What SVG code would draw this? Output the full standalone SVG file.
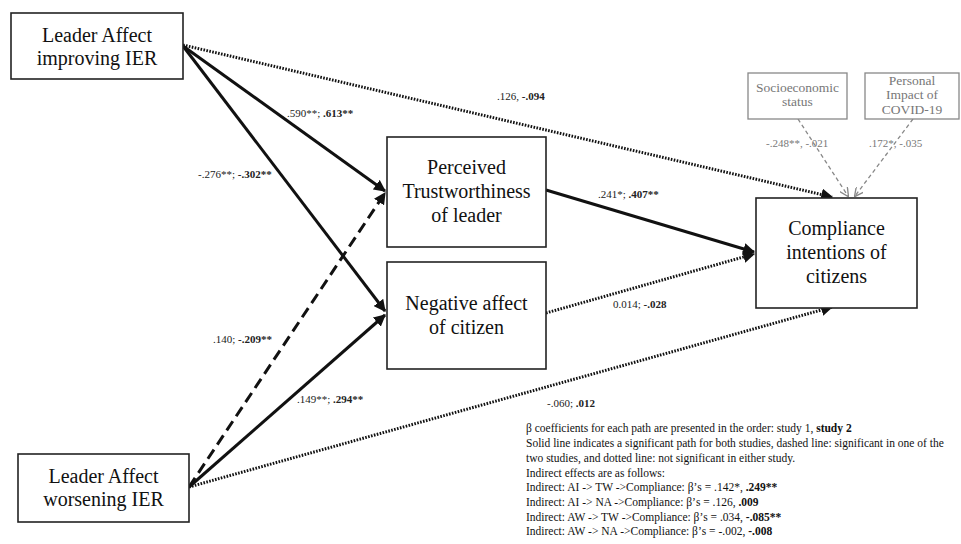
<svg xmlns="http://www.w3.org/2000/svg" width="961" height="544" viewBox="0 0 961 544">
<style>
.box{fill:#fff;stroke:#222;stroke-width:1.6}
.gbox{fill:#fff;stroke:#888;stroke-width:1.3}
.nt{font-family:"Liberation Serif","Times New Roman",serif;font-size:20px;fill:#111;text-anchor:middle}
.gt{font-family:"Liberation Serif","Times New Roman",serif;font-size:13.5px;fill:#777;text-anchor:middle}
.lb{font-family:"Liberation Serif","Times New Roman",serif;font-size:11px;fill:#222}
.glb{font-family:"Liberation Serif","Times New Roman",serif;font-size:11px;fill:#777}
.lg{font-family:"Liberation Serif","Times New Roman",serif;font-size:11.5px;fill:#111}
.b{font-weight:bold}
.solid{fill:none;stroke:#111;stroke-width:3}
.dash{fill:none;stroke:#111;stroke-width:3;stroke-dasharray:11 6}
.dot{fill:none;stroke:#111;stroke-width:3;stroke-dasharray:1.6 1.4}
.gdash{fill:none;stroke:#888;stroke-width:1.3;stroke-dasharray:4 3}
</style>
<defs>
<marker id="ah" viewBox="0 0 10 10" refX="9" refY="5" markerWidth="4" markerHeight="4" orient="auto" markerUnits="strokeWidth">
<path d="M0,0 L10,5 L0,10 z" fill="#111"/>
</marker>
<marker id="gah" viewBox="0 0 10 10" refX="9" refY="5" markerWidth="7" markerHeight="7" orient="auto" markerUnits="strokeWidth">
<path d="M0,0 L10,5 L0,10" fill="none" stroke="#888" stroke-width="1.5"/>
</marker>
</defs>
<rect width="961" height="544" fill="#fff"/>
<g id="connectors">
<line class="solid" x1="183" y1="46" x2="385" y2="191" marker-end="url(#ah)"/>
<line class="solid" x1="183" y1="46" x2="385" y2="311" marker-end="url(#ah)"/>
<line class="dot" x1="183" y1="45" x2="832" y2="197" marker-end="url(#ah)"/>
<line class="dash" x1="189" y1="487" x2="385" y2="193" marker-end="url(#ah)"/>
<line class="solid" x1="189" y1="487" x2="385" y2="315" marker-end="url(#ah)"/>
<line class="dot" x1="189" y1="487" x2="832" y2="307" marker-end="url(#ah)"/>
<line class="solid" x1="546" y1="190" x2="754" y2="252" marker-end="url(#ah)"/>
<line class="dot" x1="546" y1="313" x2="754" y2="254" marker-end="url(#ah)"/>
<line class="gdash" x1="798" y1="119" x2="848" y2="196" marker-end="url(#gah)"/>
<line class="gdash" x1="913" y1="119" x2="855" y2="196" marker-end="url(#gah)"/>
<text class="lb" x="287" y="117">.590**; <tspan class="b">.613**</tspan></text>
<text class="lb" x="198" y="178">-.276**; <tspan class="b">-.302**</tspan></text>
<text class="lb" x="497" y="100">.126, <tspan class="b">-.094</tspan></text>
<text class="glb" x="766" y="147">-.248**, -.021</text>
<text class="glb" x="869" y="147">.172*, -.035</text>
<text class="lb" x="598" y="198">.241*; <tspan class="b">.407**</tspan></text>
<text class="lb" x="613" y="308">0.014; <tspan class="b">-.028</tspan></text>
<text class="lb" x="213" y="343">.140; <tspan class="b">-.209**</tspan></text>
<text class="lb" x="297" y="403">.149**; <tspan class="b">.294**</tspan></text>
<text class="lb" x="547" y="407">-.060; <tspan class="b">.012</tspan></text>
</g>
<g id="n_ai">
<rect class="box" x="11" y="13" width="172" height="66"/>
<text class="nt" x="97" y="42">Leader Affect</text>
<text class="nt" x="97" y="65">improving IER</text>
</g>
<g id="n_aw">
<rect class="box" x="18" y="454" width="171" height="68"/>
<text class="nt" x="103.5" y="483">Leader Affect</text>
<text class="nt" x="103.5" y="506">worsening IER</text>
</g>
<g id="n_tw">
<rect class="box" x="387" y="137" width="159" height="110"/>
<text class="nt" x="466.5" y="174">Perceived</text>
<text class="nt" x="466.5" y="198">Trustworthiness</text>
<text class="nt" x="466.5" y="222">of leader</text>
</g>
<g id="n_na">
<rect class="box" x="387" y="262" width="159" height="107"/>
<text class="nt" x="466.5" y="310">Negative affect</text>
<text class="nt" x="466.5" y="334">of citizen</text>
</g>
<g id="n_comp">
<rect class="box" x="756" y="198" width="161" height="110"/>
<text class="nt" x="836.5" y="235">Compliance</text>
<text class="nt" x="836.5" y="259">intentions of</text>
<text class="nt" x="836.5" y="283">citizens</text>
</g>
<g id="n_ses">
<rect class="gbox" x="748" y="73" width="99" height="46"/>
<text class="gt" x="797.5" y="92">Socioeconomic</text>
<text class="gt" x="797.5" y="106">status</text>
</g>
<g id="n_pi">
<rect class="gbox" x="865" y="73" width="94" height="46"/>
<text class="gt" x="912" y="85">Personal</text>
<text class="gt" x="912" y="99">Impact of</text>
<text class="gt" x="912" y="114">COVID-19</text>
</g>
<g id="legend">
<text class="lg" x="526" y="432">β coefficients for each path are presented in the order: study 1, <tspan class="b">study 2</tspan></text>
<text class="lg" x="526" y="447">Solid line indicates a significant path for both studies, dashed line: significant in one of the</text>
<text class="lg" x="526" y="462">two studies, and dotted line: not significant in either study.</text>
<text class="lg" x="526" y="477">Indirect effects are as follows:</text>
<text class="lg" x="526" y="491">Indirect: AI -&gt; TW -&gt;Compliance: β’s = .142*, <tspan class="b">.249**</tspan></text>
<text class="lg" x="526" y="506">Indirect: AI -&gt; NA -&gt;Compliance: β’s = .126, <tspan class="b">.009</tspan></text>
<text class="lg" x="526" y="521">Indirect: AW -&gt; TW -&gt;Compliance: β’s = .034, <tspan class="b">-.085**</tspan></text>
<text class="lg" x="526" y="535">Indirect: AW -&gt; NA -&gt;Compliance: β’s = -.002, <tspan class="b">-.008</tspan></text>
</g>
</svg>
